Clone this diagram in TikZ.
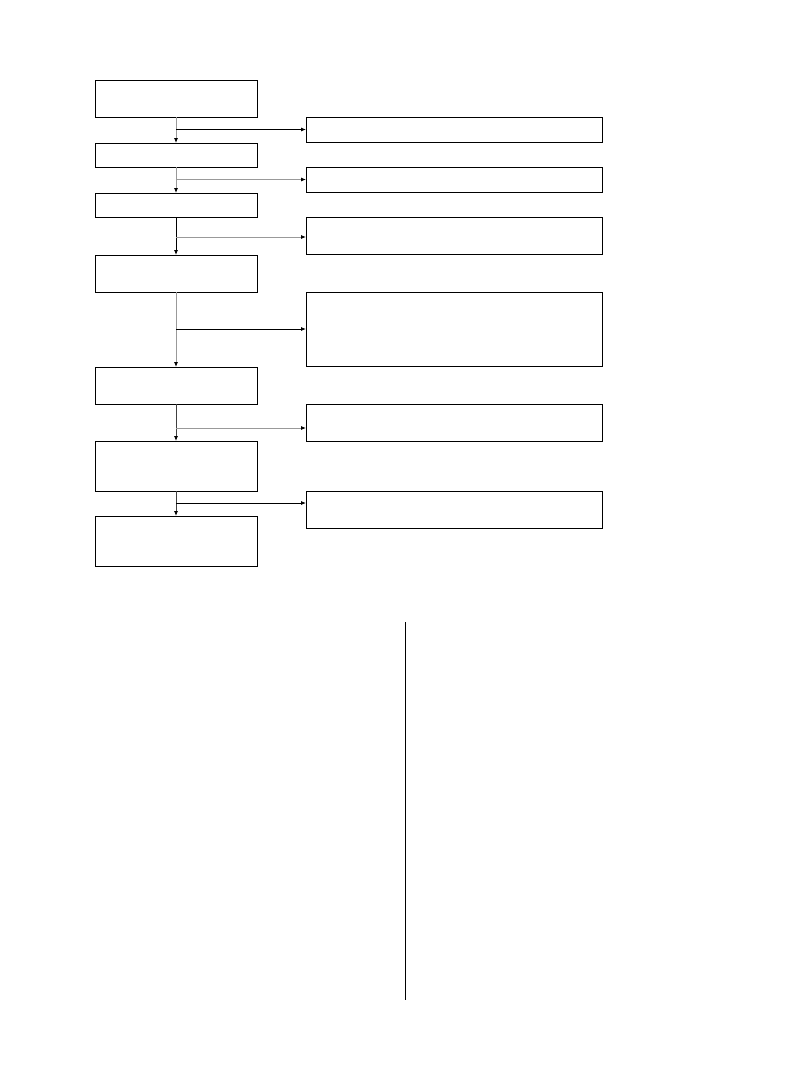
\documentclass[tikz,border=0pt]{standalone}
\usepackage{tikz}
\usetikzlibrary{arrows.meta}

\begin{document}
\begin{tikzpicture}[x=1pt, y=-1pt, line width=0.8pt,
            lbox/.style={draw, minimum width=162pt, inner sep=0pt, outer sep=0pt},
            rbox/.style={draw, minimum width=296pt, inner sep=0pt, outer sep=0pt},
            flow/.style={-{Latex[length=5pt, width=4pt, black]}, line width=0.8pt}]
            \useasboundingbox (0, 0) rectangle (791, 1081);

            \node[lbox, minimum height=37pt] (s1) at (176, 98.5) {};
            \node[lbox, minimum height=24pt] (s2) at (176, 155) {};
            \node[lbox, minimum height=24pt] (s3) at (176, 205) {};
            \node[lbox, minimum height=37pt] (s4) at (176, 273.5) {};
            \node[lbox, minimum height=37pt] (s5) at (176, 385.5) {};
            \node[lbox, minimum height=50pt] (s6) at (176, 466) {};
            \node[lbox, minimum height=50pt] (s7) at (176, 541) {};

            \node[rbox, minimum height=25pt] (r1) at (454, 129.5) {};
            \node[rbox, minimum height=25pt] (r2) at (454, 179.5) {};
            \node[rbox, minimum height=37pt] (r3) at (454, 235.5) {};
            \node[rbox, minimum height=74pt] (r4) at (454, 329) {};
            \node[rbox, minimum height=37pt] (r5) at (454, 422.5) {};
            \node[rbox, minimum height=37pt] (r6) at (454, 509.5) {};

            \draw[flow, gray!80] (s1.south) -- (s2.north);
            \draw[flow, gray!80] (s2.south) -- (s3.north);
            \draw[flow, black] (s3.south) -- (s4.north);
            \draw[flow, gray!80] (s4.south) -- (s5.north);
            \draw[flow, gray!50!black] (s5.south) -- (s6.north);
            \draw[flow, gray!50!black] (s6.south) -- (s7.north);

            \draw[flow] (s1.south |- r1.west) -- (r1.west);
            \draw[flow, gray!80] (s2.south |- r2.west) -- (r2.west);
            \draw[flow, gray!80] ([yshift=-1.5pt]s3.south |- r3.west) -- ([yshift=-1.5pt]r3.west);
            \draw[flow] (s4.south |- r4.west) -- (r4.west);
            \draw[flow, gray!80] ([yshift=-5.5pt]s5.south |- r5.west) -- ([yshift=-5.5pt]r5.west);
            \draw[flow] ([yshift=6.5pt]s6.south |- r6.west) -- ([yshift=6.5pt]r6.west);

            \coordinate (rule top) at (405, 622);
            \coordinate (rule bot) at (405, 1000);
            \draw (rule top) -- (rule bot);
        \end{tikzpicture}
\end{document}
